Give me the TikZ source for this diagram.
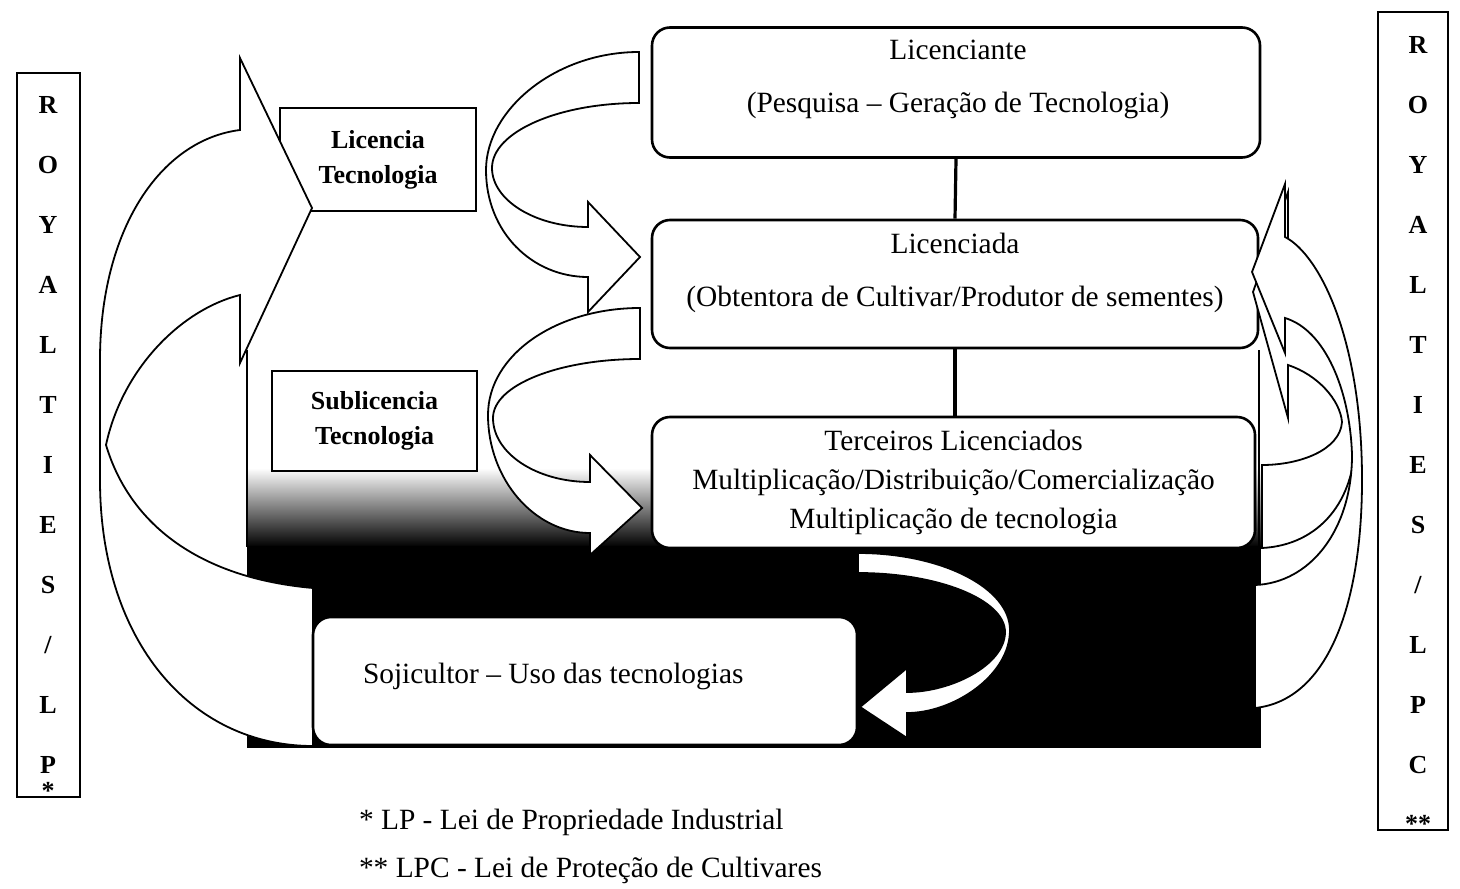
\documentclass[tikz,border=0pt]{standalone}
\usepackage{fontspec}
\setmainfont{Liberation Serif}
\usetikzlibrary{positioning}
\tikzset{
  every picture/.style={line width=1pt},
  box/.style={draw, fill=white, rounded corners=9pt, line width=1.3pt, align=center, inner sep=0pt,
    font=\fontsize{14.7}{26.5}\selectfont},
  boxtext/.style={align=center, inner sep=0pt, font=\fontsize{14.7}{26.5}\selectfont},
  tag/.style={draw, fill=white, line width=1pt, align=center, inner sep=0pt,
    font=\fontsize{13}{17.5}\selectfont\bfseries},
  royalbar/.style={draw, line width=1pt, inner sep=0pt},
  letter/.style={inner sep=0pt, font=\fontsize{13}{13}\selectfont\bfseries},
  band/.style={draw, fill=white, line width=0.9pt},
  note/.style={anchor=base west, inner sep=0pt, font=\fontsize{14.7}{18}\selectfont},
}

\begin{document}
\begin{tikzpicture}[x=0.5pt, y=-0.5pt]
  \useasboundingbox (0,0) rectangle (1460,888);
  % scanned dark block behind the lower part
  \shade[top color=white, bottom color=black] (247,468) rectangle (1261,547);
  \fill[black] (247,546) rectangle (1261,748);
  \draw (247,350) -- (247,547);
  \draw (1259,350) -- (1259,547);
  % main chain
  \node[box, minimum width=304pt, minimum height=65pt] (lcte) at (956,92.5) {};
  \node[boxtext] (lctetxt) at (958,79.5) {Licenciante\\(Pesquisa – Geração de Tecnologia)};
  \node[box, minimum width=303pt, minimum height=64pt] (lcda) at (955,284) {};
  \node[boxtext] (lcdatxt) at (955,273) {Licenciada\\(Obtentora de Cultivar/Produtor de sementes)};
  \node[box, minimum width=301.5pt, minimum height=65.5pt, font=\fontsize{14.7}{19.5}\selectfont] (terc) at (953.5,482.5)
    {Terceiros Licenciados\\Multiplicação/Distribuição/Comercialização\\Multiplicação de tecnologia};
  \draw[line width=1.6pt] (lcte.south) -- (lcda.north);
  \draw[line width=1.6pt] (lcda.south) -- (lcda.south |- terc.north);
  % licence tags
  \node[tag, minimum width=98pt, minimum height=51.5pt] (lict) at (378,159.5) {Licencia\\Tecnologia};
  \node[tag, minimum width=102.5pt, minimum height=50pt] (subt) at (374.5,421) {Sublicencia\\Tecnologia};
  % left: royalties back to the licence
  \draw[band] (240,130) -- (240,58) -- (312,208) -- (240,363) -- (240,295)
    .. controls (180,310) and (122,370) .. (106,445)
    .. controls (130,525) and (200,578) .. (313,588) -- (313,746)
    .. controls (190,746) and (100,640) .. (100,480) -- (100,360)
    .. controls (100,230) and (160,140) .. (240,130) -- cycle;
  % licenciante -> licenciada
  \draw[band] (639,52) .. controls (555,52) and (486,110) .. (486,170)
    .. controls (486,232) and (532,277) .. (588,277) -- (588,312) -- (640,257) -- (588,202) -- (588,227)
    .. controls (535,227) and (492,200) .. (492,168) .. controls (492,132) and (558,103) .. (639,103) -- cycle;
  % licenciada -> terceiros
  \draw[band] (640,308) .. controls (556,308) and (488,355) .. (488,415)
    .. controls (488,479) and (534,533) .. (590,533) -- (590,555) -- (642,508) -- (590,455) -- (590,482)
    .. controls (536,482) and (493,453) .. (493,418) .. controls (493,385) and (559,359) .. (640,359) -- cycle;
  % right: royalties back to licenciada
  \draw[band] (1288,300) -- (1288,192) -- (1253,292) -- (1288,418) -- (1288,365)
    .. controls (1318,375) and (1340,400) .. (1342,422)
    .. controls (1340,450) and (1300,465) .. (1262,465) -- (1262,548)
    .. controls (1320,545) and (1355,500) .. (1355,440)
    .. controls (1355,370) and (1320,310) .. (1288,300) -- cycle;
  \draw[band] (1285,237) -- (1285,184) -- (1252,272) -- (1285,353) -- (1285,318)
    .. controls (1325,330) and (1350,390) .. (1352,455)
    .. controls (1352,530) and (1310,583) .. (1255,585) -- (1255,708)
    .. controls (1330,700) and (1362,600) .. (1362,480)
    .. controls (1362,340) and (1320,255) .. (1285,237) -- cycle;
  % terceiros -> sojicultor
  \draw[band] (858,553) .. controls (942,553) and (1010,588) .. (1010,630)
    .. controls (1010,676) and (953,713) .. (907,713) -- (907,738) -- (860,707) -- (907,668) -- (907,692)
    .. controls (951,692) and (1005,665) .. (1005,632) .. controls (1005,600) and (939,573) .. (858,573) -- cycle;
  % farmer
  \node[box, minimum width=272pt, minimum height=64pt] (soji) at (585,681) {};
  \node[anchor=west, inner sep=0pt, font=\fontsize{14.7}{18}\selectfont] (sojitxt) at (362,676)
    {Sojicultor – Uso das tecnologias};
  % royalties columns
  \node[royalbar, minimum width=31.5pt, minimum height=362pt] (royl) at (48.5,435) {};
  \foreach \c [count=\i] in {R,O,Y,A,L,T,I,E,S,/,L,P} {
    \node[letter] (ll\i) at (48,45+60*\i) {\c};
  }
  \node[letter] (ll13) at (48,791) {*};
  \node[royalbar, minimum width=35pt, minimum height=409pt] (royr) at (1413,421) {};
  \foreach \c [count=\i] in {R,O,Y,A,L,T,I,E,S,/,L,P,C} {
    \node[letter] (rl\i) at (1418,-15+60*\i) {\c};
  }
  \node[letter] (rl14) at (1418,824) {**};
  % footnotes
  \node[note] (n1) at (358,829) {* LP - Lei de Propriedade Industrial};
  \node[note] (n2) at (358,877) {** LPC - Lei de Proteção de Cultivares};
\end{tikzpicture}
\end{document}
